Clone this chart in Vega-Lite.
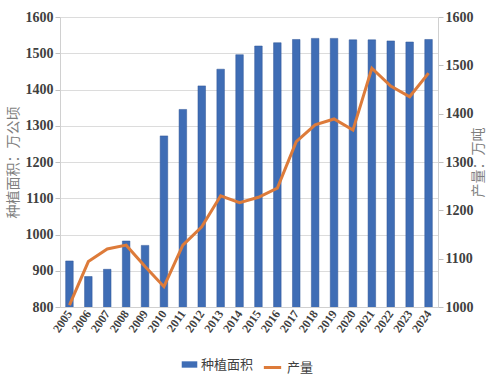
{
  "$schema": "https://vega.github.io/schema/vega-lite/v6.json",
  "width": 378,
  "height": 290,
  "autosize": {"type": "none"},
  "padding": {"left": 60, "top": 17, "right": 62, "bottom": 83},
  "background": "white",
  "config": {
    "view": {"stroke": null},
    "axis": {
      "labelFont": "Liberation Serif, Times New Roman, serif",
      "labelFontWeight": "bold",
      "labelColor": "#404040",
      "domainColor": "#D0D0D0",
      "tickColor": "#BFBFBF",
      "gridColor": "#DCDCDC",
      "titleFont": "Noto Sans CJK SC",
      "titleFontWeight": "normal",
      "titleColor": "#7F7F7F",
      "titleFontSize": 14
    },
    "legend": {"labelFont": "Noto Sans CJK SC", "labelFontSize": 13, "labelColor": "#404040"}
  },
  "data": {
    "values": [
      {"year": "2005", "area": 927, "output": 1004},
      {"year": "2006", "area": 884, "output": 1094},
      {"year": "2007", "area": 904, "output": 1120},
      {"year": "2008", "area": 982, "output": 1128},
      {"year": "2009", "area": 970, "output": 1084},
      {"year": "2010", "area": 1272, "output": 1042},
      {"year": "2011", "area": 1345, "output": 1128},
      {"year": "2012", "area": 1410, "output": 1166},
      {"year": "2013", "area": 1456, "output": 1230},
      {"year": "2014", "area": 1496, "output": 1216},
      {"year": "2015", "area": 1520, "output": 1227},
      {"year": "2016", "area": 1529, "output": 1246},
      {"year": "2017", "area": 1538, "output": 1342},
      {"year": "2018", "area": 1541, "output": 1377},
      {"year": "2019", "area": 1541, "output": 1389},
      {"year": "2020", "area": 1537, "output": 1366},
      {"year": "2021", "area": 1537, "output": 1494},
      {"year": "2022", "area": 1534, "output": 1457},
      {"year": "2023", "area": 1531, "output": 1435},
      {"year": "2024", "area": 1538, "output": 1484}
    ]
  },
  "encoding": {
    "x": {
      "field": "year",
      "type": "ordinal",
      "scale": {"paddingInner": 0.6, "paddingOuter": 0.3},
      "axis": {"title": null, "labelAngle": -55, "labelFontSize": 12, "ticks": false, "labelPadding": 4}
    }
  },
  "layer": [
    {
      "mark": {"type": "bar", "color": "#3F6DB5", "stroke": "#2F5597", "strokeWidth": 0.5, "clip": true},
      "encoding": {
        "y": {
          "field": "area",
          "type": "quantitative",
          "scale": {"domain": [800, 1600], "nice": false, "zero": false},
          "axis": {"title": "种植面积：万公顷", "format": "d", "values": [800,900,1000,1100,1200,1300,1400,1500,1600], "labelFontSize": 14, "titlePadding": 5}
        },
        "fill": {"datum": "种植面积", "scale": {"domain": ["种植面积"], "range": ["#3F6DB5"]},
          "legend": {"title": null, "orient": "none", "legendX": 122, "legendY": 340, "symbolType": "M-1.1,-0.45H1.1V0.45H-1.1Z", "symbolSize": 200, "symbolStrokeWidth": 0}}
      }
    },
    {
      "mark": {"type": "line", "strokeWidth": 3},
      "encoding": {
        "y": {
          "field": "output",
          "type": "quantitative",
          "scale": {"domain": [1000, 1600], "nice": false, "zero": false},
          "axis": {"orient": "right", "title": "产量：万吨", "format": "d", "titleAngle": 270, "values": [1000,1100,1200,1300,1400,1500,1600], "labelFontSize": 14, "grid": false, "titlePadding": 12}
        },
        "stroke": {"datum": "产量", "scale": {"domain": ["产量"], "range": ["#DD7B3A"]},
          "legend": {"title": null, "orient": "none", "legendX": 202, "legendY": 340, "symbolType": "stroke", "symbolStrokeWidth": 3, "symbolSize": 300}}
      }
    }
  ],
  "resolve": {"scale": {"y": "independent"}}
}
